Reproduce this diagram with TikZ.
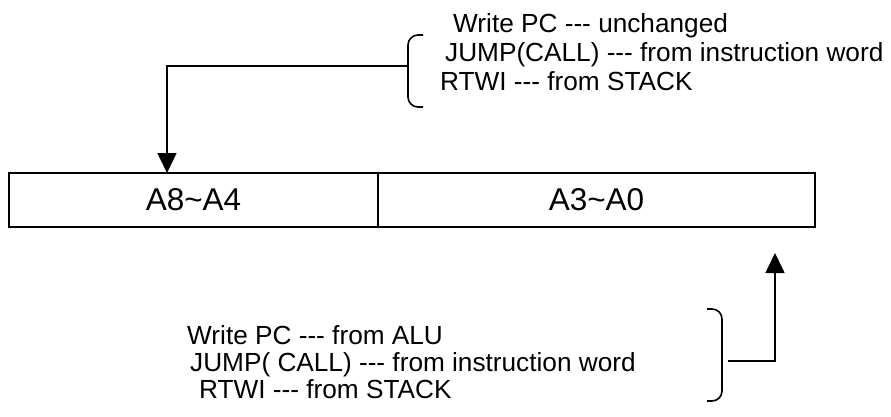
\documentclass[tikz,border=0pt]{standalone}
\usepackage{fontspec}
\setmainfont{Liberation Sans}
\usetikzlibrary{arrows.meta}
\newcommand\dsh{-\kern0pt-\kern0pt-}
\begin{document}
\begin{tikzpicture}[x=1pt,y=-1pt,
  txt/.style={font=\fontsize{26.2}{30}\selectfont},
  lbl/.style={txt, inner sep=0pt, anchor=base west},
  cell/.style={draw, line width=1.6pt, minimum height=54pt, inner sep=0pt,
    font=\fontsize{31.5}{36}\selectfont},
  brk/.style={line width=1.6pt, rounded corners=10pt},
  arr/.style={line width=1.6pt, -{Triangle[length=20pt,width=19pt]}}
]
\useasboundingbox (0,0) rectangle (891,417);

% register cells
\node[cell, minimum width=369pt] (hi) at (193.5,200) {A8\textasciitilde A4};
\node[cell, minimum width=437pt] (lo) at (596.5,200) {A3\textasciitilde A0};

% top text
\node[lbl] (t1) at (453,33) {Write PC \dsh{} unchanged};
\node[lbl] (t2) at (445,62) {JUMP(CALL) \dsh{} from instruction word};
\node[lbl] (t3) at (440,91) {RTWI \dsh{} from STACK};

% bottom text
\node[lbl] (b1) at (187,344) {Write PC \dsh{} from ALU};
\node[lbl] (b2) at (190,371) {JUMP( CALL) \dsh{} from instruction word};
\node[lbl] (b3) at (199,398) {RTWI \dsh{} from STACK};

% brackets
\draw[brk] (423,35) -- (408,35) -- (408,107) -- (423,107);
\draw[brk] (707,309) -- (722,309) -- (722,401) -- (707,401);

% connectors
\coordinate (tb) at (408,66);
\coordinate (ta) at (167,173);
\draw[arr] (tb) -| (ta);

\coordinate (bb) at (728,361);
\coordinate (ba) at (775,253);
\draw[arr] (bb) -| (ba);
\end{tikzpicture}
\end{document}
